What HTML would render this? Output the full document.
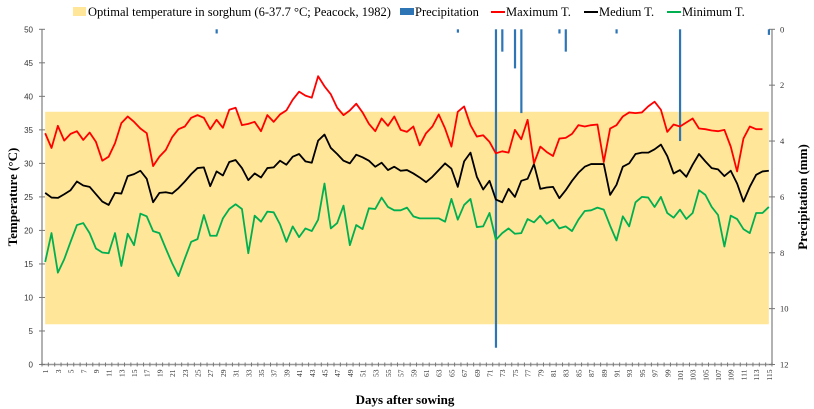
<!DOCTYPE html>
<html><head><meta charset="utf-8">
<style>
html,body{margin:0;padding:0;background:#fff;}
svg{display:block;font-family:"Liberation Serif",serif;}
</style></head>
<body>
<svg id="chart" width="814" height="409" viewBox="0 0 814 409" xmlns="http://www.w3.org/2000/svg">
  <g id="legend" font-size="12.5">
    <g>
      <rect x="73" y="7" width="13" height="9" fill="#ffe699"/>
      <text x="88" y="16">Optimal temperature in sorghum (6-37.7 °C; Peacock, 1982)</text>
    </g>
    <g>
      <rect x="400" y="8" width="14" height="7" fill="#2e75b6"/>
      <text x="415" y="16">Precipitation</text>
    </g>
    <g>
      <line x1="491" y1="12" x2="505" y2="12" stroke="#ff0000" stroke-width="2"/>
      <text x="506" y="16">Maximum T.</text>
    </g>
    <g>
      <line x1="584" y1="12" x2="598" y2="12" stroke="#000" stroke-width="2"/>
      <text x="599" y="16">Medium T.</text>
    </g>
    <g>
      <line x1="667" y1="12" x2="681" y2="12" stroke="#00b050" stroke-width="2"/>
      <text x="682" y="16">Minimum T.</text>
    </g>
  </g>
  <g id="plot"></g>
  <text transform="translate(17,197) rotate(-90)" text-anchor="middle" font-weight="bold" font-size="13">Temperature (°C)</text>
  <text transform="translate(807,197) rotate(-90)" text-anchor="middle" font-weight="bold" font-size="13">Precipitation (mm)</text>
  <text x="405" y="404" text-anchor="middle" font-weight="bold" font-size="13">Days after sowing</text>
</svg>
<script>
const maxT=[34.5,32.3,35.6,33.4,34.4,34.8,33.5,34.6,33.2,30.4,31,33,36,37,36.2,35.2,34.5,29.6,31,32,33.9,35.1,35.5,36.8,37.2,36.8,35.1,36.5,35.3,38,38.3,35.7,35.9,36.2,34.8,37.2,36.2,37.3,37.9,39.5,40.7,40.1,39.8,43,41.5,40.3,38.3,37.2,37.9,38.9,37.6,35.9,34.8,36.7,35.6,37,35,34.7,35.5,32.7,34.5,35.5,37.3,35.2,32.5,37.7,38.5,35.7,34,34.2,33.2,31.5,31.8,31.6,35,33.6,36.5,30,32.5,31.7,31.1,33.7,33.8,34.4,35.7,35.5,35.7,35.8,30.2,35.2,35.7,37,37.6,37.5,37.6,38.5,39.2,38,34.7,35.8,35.5,36.1,36.7,35.2,35.1,34.9,34.8,35,32.5,28.8,33.7,35.5,35.1,35.1];
const medT=[25.6,24.9,24.85,25.4,26,27.3,26.7,26.5,25.4,24.3,23.8,25.6,25.5,28.1,28.4,28.9,27.7,24.2,25.6,25.7,25.5,26.3,27.3,28.4,29.3,29.4,26.6,28.8,28.2,30.2,30.5,29.3,27.5,28.5,27.9,29.3,29.4,30.4,29.8,31,31.4,30.3,30.1,33.4,34.3,32.3,31.4,30.4,30,31.3,30.9,30.4,29.5,30.1,29,29.5,28.9,29,28.5,27.9,27.2,28,29,30,29.2,26.5,30.3,31.6,28,26.1,27.4,24.6,24.2,26.2,25,27.4,27.7,29.9,26.2,26.4,26.5,24.8,26,27.4,28.6,29.5,29.9,29.9,29.9,25.3,26.8,29.5,30,31.4,31.6,31.6,32.1,32.8,31.1,28.5,29,28,29.8,31.4,30.3,29.3,29.1,28.1,28.9,27,24.3,26.5,28.3,28.8,28.9];
const minT=[15.3,19.6,13.7,15.7,18.3,20.8,21.1,19.6,17.3,16.7,16.6,19.6,14.7,19.5,17.8,22.5,22.1,19.9,19.6,17.3,15.1,13.2,15.8,18.3,18.7,22.3,19.2,19.2,21.8,23.2,23.9,23.2,16.6,22.2,21.3,22.8,22.7,20.9,18.3,20.6,19,20.3,19.9,21.6,27,20.3,21.1,23.7,17.8,20.8,20.2,23.3,23.2,24.9,23.5,23,23,23.4,22.1,21.8,21.8,21.8,21.8,21.3,24.7,21.6,23.8,24.7,20.5,20.6,22.6,18.6,19.6,20.3,19.5,19.6,21.7,21.2,22.2,21,21.6,20.3,20.6,19.9,21.6,22.9,23,23.4,23.1,20.7,18.5,22.1,20.6,24.2,25,24.9,23.5,25,22.6,21.9,23.1,21.7,22.6,26,25.3,23.5,22.3,17.6,22.2,21.7,20.2,19.6,22.6,22.6,23.5];
const precipDays=[28,66,72,73,75,76,82,83,91,101,115];
const precipMM=[0.15,0.12,11.4,0.8,1.4,3.0,0.15,0.8,0.15,4.0,0.2];
const optimalRange=[6,37.7];
const yTicks=[0,5,10,15,20,25,30,35,40,45,50];
const y2Ticks=[0,2,4,6,8,10,12];
const nDays=115;

const NS="http://www.w3.org/2000/svg";
const plot=document.getElementById('plot');
const L=42,R=772,T=29.3,B=364.5;
const step=(R-L)/nDays;
const xS=d=>L+(d-0.5)*step;
const yS=v=>B-(v/50)*(B-T);
const y2S=v=>T+(v/12)*(B-T);
function mk(tag,attrs,parent){const e=document.createElementNS(NS,tag);for(const k in attrs)e.setAttribute(k,attrs[k]);(parent||plot).appendChild(e);return e;}

// optimal band
const band=mk('rect',{x:xS(1),y:yS(optimalRange[1]),width:xS(nDays)-xS(1),height:yS(optimalRange[0])-yS(optimalRange[1]),fill:'#ffe699'});



// axes
const ax=mk('line',{x1:L,y1:T,x2:L,y2:B,stroke:'#999','stroke-width':1.5});


const ax2=mk('line',{x1:R,y1:T,x2:R,y2:B,stroke:'#999','stroke-width':1.5});


const xa=mk('line',{x1:L,y1:B,x2:R,y2:B,stroke:'#999','stroke-width':1.5});



yTicks.forEach(v=>{
  mk('line',{x1:L-3,y1:yS(v),x2:L+3,y2:yS(v),stroke:'#777'});
  const t=mk('text',{x:L-9,y:yS(v)+3,'text-anchor':'end','font-size':8,'font-family':'Liberation Sans, sans-serif',fill:'#333'});
  t.textContent=v;
  
  
});
y2Ticks.forEach(v=>{
  mk('line',{x1:R-3,y1:y2S(v),x2:R+3,y2:y2S(v),stroke:'#777'});
  const t=mk('text',{x:R+8,y:y2S(v)+3,'font-size':8.5,fill:'#333'});
  t.textContent=v;
  
  
});
for(let d=0;d<=nDays;d++){
  const x=L+d*step;
  mk('line',{x1:x,y1:B-2,x2:x,y2:B+2,stroke:'#777'});
}
for(let d=1;d<=nDays;d+=2){
  const t=mk('text',{transform:`translate(${xS(d)+3},${B+5}) rotate(-90)`,'text-anchor':'end','font-size':7.5,fill:'#333'});
  t.textContent=d;
  
  
}

// precipitation bars
precipDays.forEach((d,i)=>{
  const r=mk('rect',{x:xS(d)-1,y:T,width:2.2,height:y2S(precipMM[i])-T,fill:'#2e75b6'});
  
  
});

function line(arr,color,name){
  const pts=arr.map((v,i)=>xS(i+1).toFixed(2)+','+yS(v).toFixed(2)).join(' ');
  const p=mk('polyline',{points:pts,fill:'none',stroke:color,'stroke-width':1.8,'stroke-linejoin':'round'});
  
  
}
line(minT,'#00b050','minimum-temperature-line');
line(medT,'#000000','medium-temperature-line');
line(maxT,'#ff0000','maximum-temperature-line');
</script>
</body></html>
